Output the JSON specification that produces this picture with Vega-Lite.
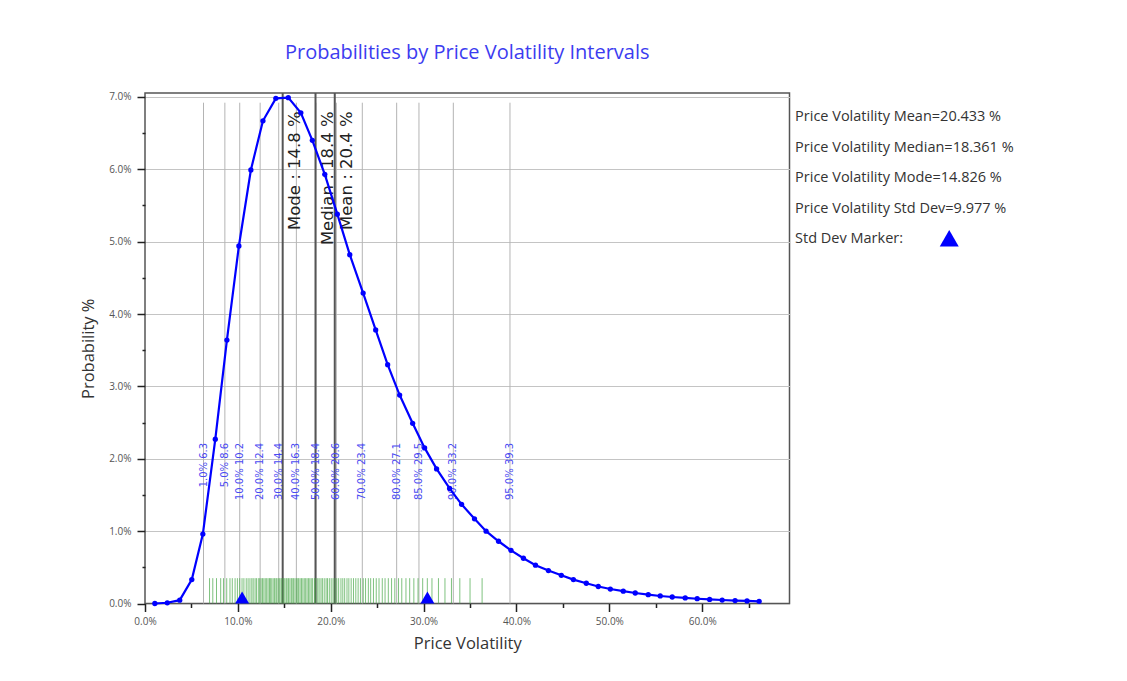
{
  "$schema": "https://vega.github.io/schema/vega-lite/v6.json",
  "width": 644.5,
  "height": 510.5,
  "autosize": {"type": "none"},
  "padding": {"left": 145, "top": 93, "right": 337.5, "bottom": 77.5},
  "background": "white",
  "title": {"text": "Probabilities by Price Volatility Intervals", "color": "#3c3cf0", "fontSize": 20, "font": "Open Sans", "fontWeight": "normal", "offset": 29, "anchor": "middle"},
  "config": {"view": {"stroke": "#555555", "strokeWidth": 1.5}, "font": "Open Sans"},
  "resolve": {"axis": {"x": "independent", "y": "independent"}},
  "datasets": {
    "curve": [
      {"vol": 1.06, "prob": 0.0}, {"vol": 2.4, "prob": 0.01}, {"vol": 3.74, "prob": 0.046}, {"vol": 5.04, "prob": 0.33},
      {"vol": 6.23, "prob": 0.96}, {"vol": 7.57, "prob": 2.27}, {"vol": 8.82, "prob": 3.64}, {"vol": 10.11, "prob": 4.94},
      {"vol": 11.4, "prob": 5.99}, {"vol": 12.7, "prob": 6.67}, {"vol": 14.09, "prob": 6.98}, {"vol": 15.43, "prob": 6.99},
      {"vol": 16.78, "prob": 6.78}, {"vol": 18.02, "prob": 6.4}, {"vol": 19.36, "prob": 5.93}, {"vol": 20.71, "prob": 5.38},
      {"vol": 22.05, "prob": 4.82}, {"vol": 23.49, "prob": 4.29}, {"vol": 24.84, "prob": 3.78}, {"vol": 26.13, "prob": 3.3},
      {"vol": 27.42, "prob": 2.88}, {"vol": 28.82, "prob": 2.49}, {"vol": 30.11, "prob": 2.15}, {"vol": 31.4, "prob": 1.86},
      {"vol": 32.8, "prob": 1.59}, {"vol": 34.09, "prob": 1.37}, {"vol": 35.48, "prob": 1.17}, {"vol": 36.73, "prob": 1.0},
      {"vol": 38.07, "prob": 0.86}, {"vol": 39.41, "prob": 0.735}, {"vol": 40.75, "prob": 0.625}, {"vol": 42.05, "prob": 0.53},
      {"vol": 43.44, "prob": 0.455}, {"vol": 44.83, "prob": 0.39}, {"vol": 46.13, "prob": 0.33}, {"vol": 47.52, "prob": 0.28},
      {"vol": 48.81, "prob": 0.235}, {"vol": 50.11, "prob": 0.2}, {"vol": 51.5, "prob": 0.17}, {"vol": 52.79, "prob": 0.145},
      {"vol": 54.19, "prob": 0.122}, {"vol": 55.48, "prob": 0.104}, {"vol": 56.77, "prob": 0.09}, {"vol": 58.17, "prob": 0.077},
      {"vol": 59.46, "prob": 0.066}, {"vol": 60.8, "prob": 0.056}, {"vol": 62.15, "prob": 0.048}, {"vol": 63.54, "prob": 0.041},
      {"vol": 64.83, "prob": 0.035}, {"vol": 66.13, "prob": 0.03}
    ],
    "pct": [
      {"value": 6.3, "label": "1.0% 6.3"}, {"value": 8.6, "label": "5.0% 8.6"}, {"value": 10.2, "label": "10.0% 10.2"},
      {"value": 12.4, "label": "20.0% 12.4"}, {"value": 14.4, "label": "30.0% 14.4"}, {"value": 16.3, "label": "40.0% 16.3"},
      {"value": 18.4, "label": "50.0% 18.4"}, {"value": 20.6, "label": "60.0% 20.6"}, {"value": 23.4, "label": "70.0% 23.4"},
      {"value": 27.1, "label": "80.0% 27.1"}, {"value": 29.5, "label": "85.0% 29.5"}, {"value": 33.2, "label": "90.0% 33.2"},
      {"value": 39.3, "label": "95.0% 39.3"}
    ],
    "centers": [
      {"stat": "Mode", "value": 14.826, "label": "Mode  : 14.8 %"},
      {"stat": "Median", "value": 18.361, "label": "Median : 18.4 %"},
      {"stat": "Mean", "value": 20.433, "label": "Mean  : 20.4 %"}
    ],
    "rug": [
      {"v": 6.95}, {"v": 7.3}, {"v": 7.7}, {"v": 8.15}, {"v": 8.45}, {"v": 8.8}, {"v": 9.15}, {"v": 9.4}, {"v": 9.7}, {"v": 9.95},
      {"v": 10.2}, {"v": 10.45}, {"v": 10.65}, {"v": 10.9}, {"v": 11.1}, {"v": 11.3}, {"v": 11.5}, {"v": 11.65}, {"v": 11.85}, {"v": 12.0},
      {"v": 12.2}, {"v": 12.35}, {"v": 12.5}, {"v": 12.65}, {"v": 12.8}, {"v": 12.95}, {"v": 13.1}, {"v": 13.25}, {"v": 13.4}, {"v": 13.5},
      {"v": 13.65}, {"v": 13.8}, {"v": 13.95}, {"v": 14.1}, {"v": 14.2}, {"v": 14.35}, {"v": 14.5}, {"v": 14.65}, {"v": 14.75}, {"v": 14.9},
      {"v": 15.05}, {"v": 15.2}, {"v": 15.3}, {"v": 15.45}, {"v": 15.6}, {"v": 15.75}, {"v": 15.85}, {"v": 16.0}, {"v": 16.15}, {"v": 16.3},
      {"v": 16.45}, {"v": 16.55}, {"v": 16.7}, {"v": 16.85}, {"v": 17.0}, {"v": 17.15}, {"v": 17.3}, {"v": 17.45}, {"v": 17.6}, {"v": 17.75},
      {"v": 17.9}, {"v": 18.05}, {"v": 18.25}, {"v": 18.4}, {"v": 18.6}, {"v": 18.75}, {"v": 18.95}, {"v": 19.1}, {"v": 19.3}, {"v": 19.5},
      {"v": 19.65}, {"v": 19.85}, {"v": 20.05}, {"v": 20.25}, {"v": 20.45}, {"v": 20.65}, {"v": 20.85}, {"v": 21.1}, {"v": 21.3}, {"v": 21.5},
      {"v": 21.75}, {"v": 21.95}, {"v": 22.2}, {"v": 22.45}, {"v": 22.7}, {"v": 22.95}, {"v": 23.2}, {"v": 23.5}, {"v": 23.75}, {"v": 24.05},
      {"v": 24.3}, {"v": 24.6}, {"v": 24.9}, {"v": 25.2}, {"v": 25.55}, {"v": 25.85}, {"v": 26.2}, {"v": 26.55}, {"v": 26.9}, {"v": 27.3},
      {"v": 27.65}, {"v": 28.1}, {"v": 28.5}, {"v": 28.95}, {"v": 29.4}, {"v": 29.9}, {"v": 30.4}, {"v": 30.9}, {"v": 31.6}, {"v": 32.3},
      {"v": 33.0}, {"v": 33.9}, {"v": 35.0}, {"v": 36.3}
    ],
    "sd": [{"marker": "Mean - Std Dev", "v": 10.456}, {"marker": "Mean + Std Dev", "v": 30.41}],
    "legend": [{"lines": "Price Volatility Mean=20.433 %\nPrice Volatility Median=18.361 %\nPrice Volatility Mode=14.826 %\nPrice Volatility Std Dev=9.977 %\nStd Dev Marker:"}],
    "legendMarker": [{"marker": "Std Dev Marker"}]
  },
  "layer": [
    {
      "data": {"name": "pct"},
      "mark": {"type": "rule", "color": "#b4b4b4", "strokeWidth": 1},
      "encoding": {
        "x": {"field": "value", "type": "quantitative", "axis": null},
        "y": {"datum": 0, "axis": null},
        "y2": {"datum": 6.92}
      }
    },
    {
      "data": {"name": "centers"},
      "mark": {"type": "rule", "color": "#555555", "strokeWidth": 2},
      "encoding": {
        "x": {"field": "value", "type": "quantitative", "axis": null},
        "y": {"datum": 0, "axis": null},
        "y2": {"datum": 7.054}
      }
    },
    {
      "data": {"name": "pct"},
      "mark": {"type": "text", "angle": 270, "align": "right", "baseline": "middle", "fontSize": 10, "font": "DejaVu Sans", "color": "#4a4af2"},
      "encoding": {
        "x": {"field": "value", "type": "quantitative", "axis": null},
        "y": {"datum": 2.22, "axis": null},
        "text": {"field": "label"}
      }
    },
    {
      "data": {"name": "centers"},
      "mark": {"type": "text", "angle": 270, "align": "right", "baseline": "top", "dy": 4, "fontSize": 16.5, "font": "DejaVu Sans", "color": "#222222"},
      "encoding": {
        "x": {"field": "value", "type": "quantitative", "axis": null},
        "y": {"datum": 6.8, "axis": null},
        "text": {"field": "label"}
      }
    },
    {
      "data": {"name": "rug"},
      "mark": {"type": "rule", "color": "#49a849", "opacity": 0.7, "strokeWidth": 1},
      "encoding": {
        "x": {"field": "v", "type": "quantitative", "axis": null},
        "y": {"datum": 0, "axis": null},
        "y2": {"datum": 0.35}
      }
    },
    {
      "data": {"name": "curve"},
      "mark": {"type": "line", "color": "#0000ff", "strokeWidth": 2.2, "point": {"filled": true, "size": 28, "color": "#0000ff"}},
      "encoding": {
        "x": {
          "field": "vol", "type": "quantitative",
          "scale": {"domain": [0, 69.4], "nice": false, "zero": false},
          "axis": {
            "orient": "bottom",
            "title": "Price Volatility",
            "values": [0, 5, 10, 15, 20, 25, 30, 35, 40, 45, 50, 55, 60, 65],
            "labelExpr": "datum.value % 10 === 0 ? format(datum.value, '.1f') + '%' : ''",
            "labelFlush": false,
            "grid": false, "domain": false,
            "tickColor": "#222222", "tickWidth": 1.5,
            "tickSize": {"condition": {"test": "datum.value % 10 === 0", "value": 8}, "value": 4},
            "labelFont": "Open Sans", "labelFontSize": 10, "labelColor": "#555555", "labelPadding": 5,
            "titleFont": "Open Sans", "titleFontSize": 16.5, "titleFontWeight": "normal", "titleColor": "#333333", "titlePadding": 9
          }
        },
        "y": {
          "field": "prob", "type": "quantitative",
          "scale": {"domain": [0, 7.054], "nice": false},
          "axis": {
            "orient": "left",
            "title": "Probability %",
            "values": [0, 0.5, 1, 1.5, 2, 2.5, 3, 3.5, 4, 4.5, 5, 5.5, 6, 6.5, 7],
            "labelExpr": "datum.value % 1 === 0 ? format(datum.value, '.1f') + '%' : ''",
            "labelFlush": false,
            "grid": true, "gridColor": "#c4c4c4", "gridWidth": 1,
            "gridOpacity": {"condition": {"test": "datum.value % 1 === 0", "value": 1}, "value": 0},
            "domain": false,
            "tickColor": "#222222", "tickWidth": 1.5,
            "tickSize": {"condition": {"test": "datum.value % 1 === 0", "value": 8}, "value": 3},
            "labelFont": "Open Sans", "labelFontSize": 10, "labelColor": "#555555", "labelPadding": 6,
            "titleFont": "Open Sans", "titleFontSize": 16.5, "titleFontWeight": "normal", "titleColor": "#333333", "titlePadding": 12
          }
        }
      }
    },
    {
      "data": {"name": "sd"},
      "mark": {"type": "point", "shape": "triangle-up", "filled": true, "size": 196, "color": "#0000ff", "opacity": 1},
      "encoding": {
        "x": {"field": "v", "type": "quantitative", "axis": null},
        "y": {"datum": 0.083, "axis": null}
      }
    },
    {
      "data": {"name": "legend"},
      "mark": {"type": "text", "align": "left", "baseline": "middle", "lineBreak": "\n", "lineHeight": 30.5, "fontSize": 14.5, "font": "Open Sans", "color": "#333333"},
      "encoding": {
        "x": {"datum": 70.0, "axis": null},
        "y": {"datum": 6.718, "axis": null},
        "text": {"field": "lines"}
      }
    },
    {
      "data": {"name": "legendMarker"},
      "mark": {"type": "point", "shape": "triangle-up", "filled": true, "size": 361, "color": "#0000ff", "opacity": 1},
      "encoding": {
        "x": {"datum": 86.6, "axis": null},
        "y": {"datum": 5.046, "axis": null}
      }
    }
  ]
}
